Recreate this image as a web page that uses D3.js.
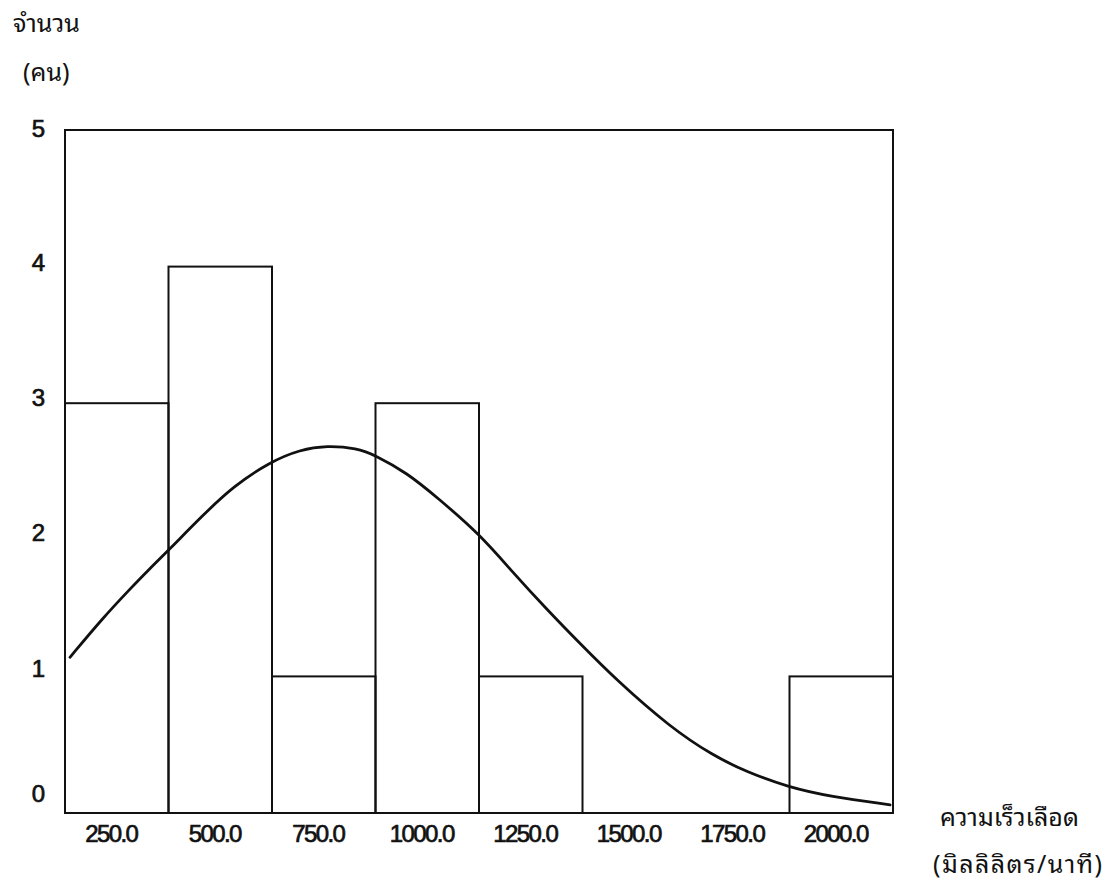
<!DOCTYPE html>
<html>
<head>
<meta charset="utf-8">
<script src="https://cdn.jsdelivr.net/npm/d3@7"></script>
<style>
    body { margin: 0; background: #fff; }
    svg { display: block; }
</style>
</head>
<body>
<svg id="main"></svg>
<script>
const width = 1109;
const height = 881;

// histogram bins (centre of each 250 ml/min class) and counts
const binCenters = [250, 500, 750, 1000, 1250, 1500, 1750, 2000];
const counts = [3, 4, 1, 3, 1, 0, 0, 1];
const binWidth = 250;
const yTicks = [0, 1, 2, 3, 4, 5];

// fitted normal curve
const curveX = [137, 217, 282, 330, 374, 458, 531, 620, 693, 758, 830, 874, 951, 1024,
    1127, 1207, 1289, 1369, 1458, 1586, 1690, 1772, 1871, 1973, 2118];
const curveY = [1.14, 1.43, 1.64, 1.79, 1.92, 2.18, 2.39, 2.57, 2.66, 2.69, 2.67, 2.62, 2.49, 2.31,
    2.04, 1.76, 1.49, 1.24, 0.97, 0.63, 0.42, 0.30, 0.19, 0.12, 0.06];

const yLabel = ['จำนวน', '(คน)'];
const xLabel = ['ความเร็วเลือด', '(มิลลิลิตร/นาที)'];

const thaiFont = '"Noto Sans Thai Looped", Norasi, Garuda, Loma, Kinnari, "Noto Serif Thai", "Noto Sans Thai", sans-serif';
const numFont = '"Liberation Sans", Arial, sans-serif';

const plot = { left: 65, right: 893, top: 130, bottom: 813 };

const svg = d3.select('svg#main')
    .attr('width', width)
    .attr('height', height);

const x = d3.scaleLinear()
    .domain([binCenters[0] - binWidth / 2, binCenters[binCenters.length - 1] + binWidth / 2])
    .range([plot.left, plot.right]);
const y = d3.scaleLinear()
    .domain([0, 5])
    .range([plot.bottom, plot.top]);

// bars
const bars = binCenters.map((c, i) => ({ x0: c - binWidth / 2, x1: c + binWidth / 2, n: counts[i] }))
    .filter(d => d.n > 0);

svg.append('g')
    .selectAll('rect')
    .data(bars).enter()
    .append('rect')
    .attr('x', d => x(d.x0))
    .attr('y', d => y(d.n))
    .attr('width', d => x(d.x1) - x(d.x0))
    .attr('height', d => y(0) - y(d.n))
    .attr('fill', 'none')
    .attr('stroke', '#111')
    .attr('stroke-width', 2);

// frame
svg.append('rect')
    .attr('x', x.range()[0])
    .attr('y', y(5))
    .attr('width', x.range()[1] - x.range()[0])
    .attr('height', y(0) - y(5))
    .attr('fill', 'none')
    .attr('stroke', '#111')
    .attr('stroke-width', 2);

// normal curve
const line = d3.line()
    .x(d => x(d[0]))
    .y(d => y(d[1]))
    .curve(d3.curveBasis);

svg.append('path')
    .datum(curveX.map((v, i) => [v, curveY[i]]))
    .attr('d', line)
    .attr('fill', 'none')
    .attr('stroke', '#111')
    .attr('stroke-width', 2.8)
    .attr('stroke-linecap', 'round');

// axes
const xAxis = svg.append('g')
    .attr('transform', `translate(0,${plot.bottom})`)
    .call(d3.axisBottom(x)
        .tickValues(binCenters)
        .tickFormat(d3.format('.1f'))
        .tickSize(0)
        .tickPadding(12));
xAxis.select('.domain').remove();
xAxis.selectAll('text')
    .attr('dx', -6)
    .style('font-family', numFont)
    .style('font-size', '24px')
    .style('letter-spacing', '-1.6px')
    .style('fill', '#111')
    .style('stroke', '#111')
    .style('stroke-width', 0.7);

const yAxis = svg.append('g')
    .attr('transform', `translate(${plot.left},0)`)
    .call(d3.axisLeft(y)
        .tickValues(yTicks)
        .tickFormat(d3.format('d'))
        .tickSize(0)
        .tickPadding(20));
yAxis.select('.domain').remove();
yAxis.selectAll('text')
    .attr('y', d => d === 0 ? -19 : -Math.round(d === 5 ? 1 : 4 + (4 - d) * 1.3))
    .style('font-family', numFont)
    .style('font-size', '24px')
    .style('fill', '#111')
    .style('stroke', '#111')
    .style('stroke-width', 0.7);

// axis titles
svg.append('g')
    .selectAll('text')
    .data(yLabel).enter()
    .append('text')
    .text(d => d)
    .attr('x', (d, i) => i === 0 ? 13 : 23)
    .attr('y', (d, i) => i === 0 ? 32 : 81)
    .style('font-family', thaiFont)
    .style('font-size', '25px')
    .style('fill', '#111');

svg.append('g')
    .selectAll('text')
    .data(xLabel).enter()
    .append('text')
    .text(d => d)
    .attr('x', (d, i) => i === 0 ? 940 : 933)
    .attr('y', (d, i) => i === 0 ? 826 : 873)
    .style('font-family', thaiFont)
    .style('font-size', '25px')
    .style('letter-spacing', (d, i) => i === 0 ? '0px' : '1.4px')
    .style('fill', '#111');
</script>
</body>
</html>
